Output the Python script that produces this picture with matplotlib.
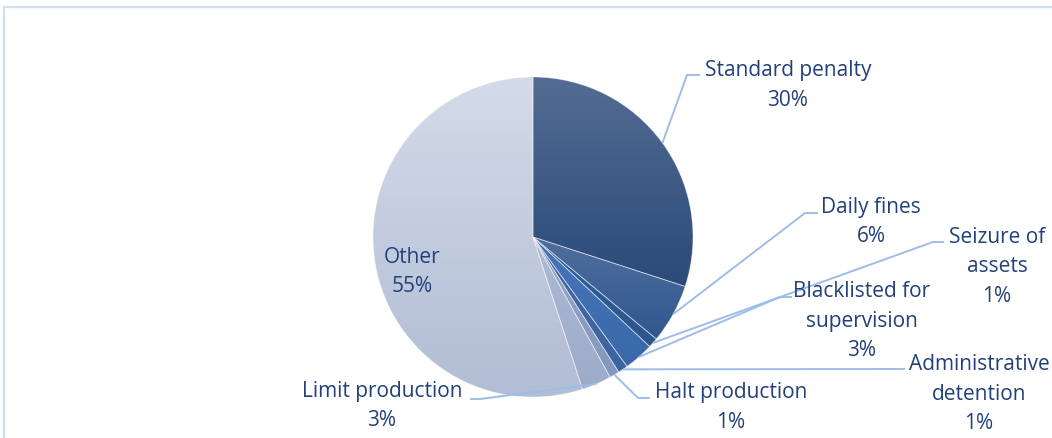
import numpy as np
import matplotlib
matplotlib.use("Agg")
import matplotlib.pyplot as plt
from matplotlib.colors import LinearSegmentedColormap
from matplotlib.patches import Rectangle

plt.rcParams['font.family'] = ['Open Sans', 'DejaVu Sans']

categories = ["Standard penalty", "Daily fines", "Seizure of assets",
              "Blacklisted for supervision", "Administrative detention",
              "Halt production", "Limit production", "Other"]
shares = [30, 6, 1, 3, 1, 1, 3, 55]
label_lines = [["Standard penalty"], ["Daily fines"], ["Seizure of", "assets"],
               ["Blacklisted for", "supervision"], ["Administrative", "detention"],
               ["Halt production"], ["Limit production"], ["Other"]]

# gradient colours per slice: (top, bottom)
grad = [("#536c93", "#2a4a79"),
        ("#4f6f9f", "#30578e"),
        ("#32609d", "#2c568c"),
        ("#4677bb", "#3a68a9"),
        ("#4169a6", "#3d64a0"),
        ("#94a6c9", "#8497bd"),
        ("#aebad5", "#9dabca"),
        ("#d4dbe9", "#b1bdd4")]

W, H = 1052, 438
fig = plt.figure(figsize=(W / 100, H / 100), dpi=100)
ax = fig.add_axes([0, 0, 1, 1])

cx, cy, R = 533, H - 237, 160
wedges, _ = ax.pie(shares, startangle=90, counterclock=False,
                   center=(cx, cy), radius=R,
                   wedgeprops=dict(linewidth=0.6, edgecolor=(1, 1, 1, 0.45)))
ax.axis("off")

# shaded fill for every slice, clipped to its wedge
for w, (c_top, c_bot) in zip(wedges, grad):
    bb = w.get_path().get_extents(w.get_patch_transform())
    cmap = LinearSegmentedColormap.from_list("g", [c_bot, c_top])
    g = np.linspace(0, 1, 256).reshape(-1, 1)
    im = ax.imshow(g, cmap=cmap, origin="lower", aspect="auto",
                   extent=(bb.x0, bb.x1, bb.y0, bb.y1), zorder=1,
                   interpolation="bilinear")
    im.set_clip_path(w)
    w.set_facecolor("none")
    w.set_zorder(2)
ax.set_xlim(0, W)
ax.set_ylim(0, H)
ax.set_aspect("equal")

text_color = "#22407a"
line_color = "#9dbde8"
fs = 15
step = 29.5

# label centre x, first-line baseline (from top), leader line elbow points
label_pos = {
    "Standard penalty": (788, 76, [(687, 75), (700, 75)]),
    "Daily fines": (871, 213, [(805, 213), (818, 213)]),
    "Seizure of assets": (997, 243, [(933, 242), (944, 242)]),
    "Blacklisted for supervision": (862, 297, [(780, 297), (792, 297)]),
    "Administrative detention": (979, 370, [(905, 369)]),
    "Halt production": (731, 398, [(638, 398), (650, 398)]),
    "Limit production": (382, 397, [(480, 399), (470, 399)]),
    "Other": (412, 263, None),
}

cum = np.cumsum([0] + shares)
for i, (name, val, lines) in enumerate(zip(categories, shares, label_lines)):
    mid = 90 - (cum[i] + val / 2) * 3.6
    tx, base, elbow = label_pos[name]
    if elbow is not None:
        sx = cx + R * np.cos(np.radians(mid))
        sy = cy + R * np.sin(np.radians(mid))
        xs = [sx] + [p[0] for p in elbow]
        ys = [sy] + [H - p[1] for p in elbow]
        ax.plot(xs, ys, color=line_color, lw=1.4, zorder=3,
                solid_capstyle="butt")
    for k, s in enumerate(lines + [f"{val}%"]):
        ax.text(tx, H - (base + k * step), s, ha="center", va="baseline",
                fontsize=fs, color=text_color, zorder=4)

# chart area border
ax.add_patch(Rectangle((3.5, -20), W + 20, H - 6.5 + 20, fill=False,
                       edgecolor="#d3dff0", lw=1.6, zorder=0))

fig.savefig("out.png", dpi=100)
